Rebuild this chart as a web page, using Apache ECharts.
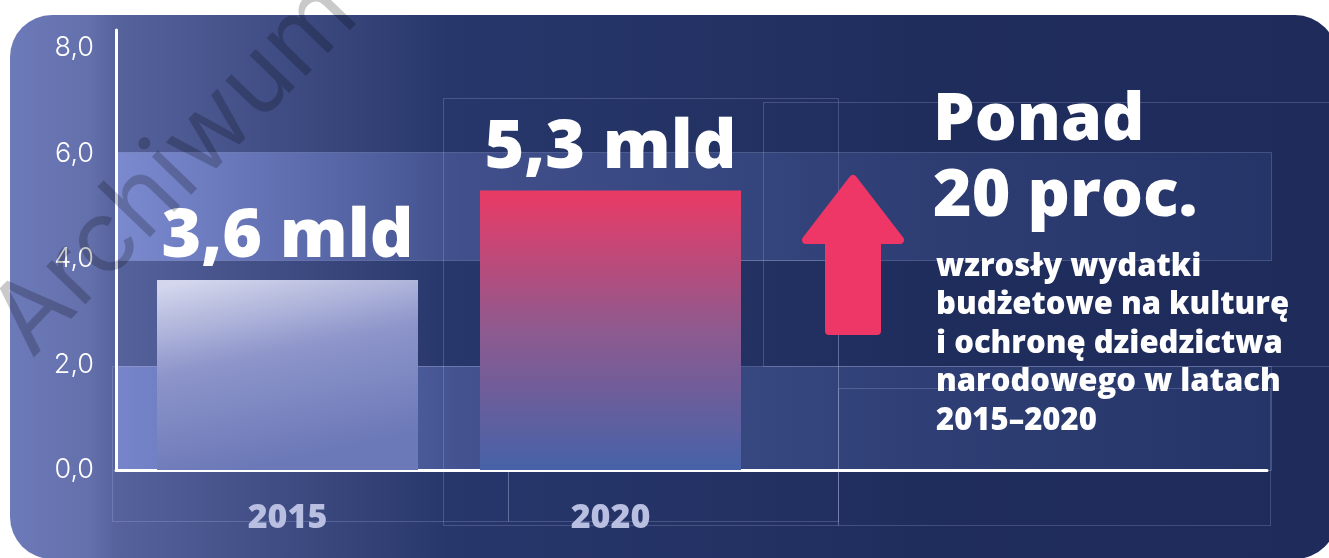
<!DOCTYPE html>
<html>
<head>
<meta charset="utf-8">
<script src="https://cdn.jsdelivr.net/npm/echarts@6/dist/echarts.min.js"></script>
<style>
  html, body { margin: 0; padding: 0; background: #ffffff; }
  #chart { width: 1329px; height: 558px; }
</style>
</head>
<body>
<div id="chart"></div>
<script>
// Budget spending on culture and heritage, billions PLN
const years = ['2015', '2020'];
const spending = [3.6, 5.3];
const valueLabels = ['3,6 mld', '5,3 mld'];
const yTickValues = [0, 2, 4, 6, 8];
const headline = ['Ponad', '20 proc.'];
const description = ['wzrosły wydatki', 'budżetowe na kulturę', 'i ochronę dziedzictwa', 'narodowego w latach', '2015–2020'];
const watermark = 'Archiwum';

const HEAVY = '"Open Sans"';
const fmt = v => v.toFixed(1).replace('.', ',');

const chart = echarts.init(document.getElementById('chart'), null, { renderer: 'canvas' });

const outline = 'rgba(190,200,240,0.22)';
function frame(x, y, w, h, fill) {
  return {
    type: 'rect', z: -8, silent: true,
    shape: { x: x + 0.5, y: y + 0.5, width: w, height: h },
    style: { fill: fill || 'transparent', stroke: outline, lineWidth: 1 }
  };
}
function bandFill(a, b) {
  return new echarts.graphic.LinearGradient(0, 0, 1, 0, [
    { offset: 0, color: a },
    { offset: 0.3, color: b },
    { offset: 1, color: 'rgba(70,95,160,0.18)' }
  ]);
}

const graphics = [
  // card
  {
    type: 'rect', z: -10, silent: true,
    shape: { x: 10, y: 15, width: 1327, height: 544, r: 42 },
    style: {
      fill: new echarts.graphic.LinearGradient(0, 0, 1, 0, [
        { offset: 0, color: '#6d7aba' },
        { offset: 0.06, color: '#6470ab' },
        { offset: 0.08, color: '#56629c' },
        { offset: 0.33, color: '#28376b' },
        { offset: 0.7, color: '#1f2d5d' },
        { offset: 1, color: '#1e2b5b' }
      ])
    }
  },
  // translucent bands
  frame(116, 152, 1155, 108, bandFill('rgba(125,140,210,0.95)', 'rgba(95,110,180,0.45)')),
  frame(116, 366, 1155, 104, bandFill('rgba(120,135,205,0.95)', 'rgba(95,110,180,0.5)')),
  // thin frames
  frame(443, 98, 395, 427),
  frame(763, 102, 620, 264),
  frame(508, 260, 330, 261),
  frame(112, 366, 396, 155),
  frame(838, 388, 432, 137)
];

// up arrow
graphics.push({
  type: 'polygon', z: 5, silent: true,
  shape: { points: [[853, 179], [900, 240], [877, 240], [877, 331], [829, 331], [829, 240], [806, 240]] },
  style: { fill: '#ee3766', stroke: '#ee3766', lineWidth: 8, lineJoin: 'round' }
});

// headline and description (y is the middle line, baseline sits ~0.39em lower)
headline.forEach((t, i) => {
  graphics.push({
    type: 'text', z: 5, silent: true,
    style: { x: 933, y: 121 + i * 76, text: t, fill: '#ffffff', font: '800 66px ' + HEAVY, verticalAlign: 'middle' }
  });
});
description.forEach((t, i) => {
  graphics.push({
    type: 'text', z: 5, silent: true,
    style: { x: 936, y: 267 + i * 38.5, text: t, fill: '#ffffff', font: '800 31px ' + HEAVY, verticalAlign: 'middle' }
  });
});

// watermark
graphics.push({
  type: 'text', z: 100, silent: true,
  x: 175, y: 168, rotation: 46 * Math.PI / 180,
  style: { x: 0, y: 0, text: watermark, fill: 'rgba(0,0,0,0.21)', font: '400 100px Inter', align: 'center', verticalAlign: 'middle' }
});

const option = {
  animation: false,
  backgroundColor: '#ffffff',
  grid: [
    // frame with the axis lines and value ticks
    { left: 116, right: 62, top: 30, bottom: 88 },
    // bars
    { left: 126, width: 646, top: 48, bottom: 88 }
  ],
  xAxis: [
    {
      gridIndex: 0, type: 'value', min: 0, max: 1,
      axisLine: { show: true, onZero: false, lineStyle: { color: '#ffffff', width: 3 } },
      axisTick: { show: false }, axisLabel: { show: false }, splitLine: { show: false }
    },
    {
      gridIndex: 1, type: 'category', data: years,
      axisLine: { show: false }, axisTick: { show: false }, splitLine: { show: false },
      axisLabel: { color: '#b9bfe1', fontFamily: HEAVY, fontWeight: 800, fontSize: 34, margin: 31 }
    }
  ],
  yAxis: [
    {
      gridIndex: 0, type: 'value', min: 0, max: 8.34, interval: 2,
      axisLine: { show: true, lineStyle: { color: '#ffffff', width: 3 } },
      axisTick: { show: false }, splitLine: { show: false },
      axisLabel: {
        color: '#ffffff', fontFamily: 'Inter', fontWeight: 300, fontSize: 27, margin: 22,
        formatter: v => (yTickValues.includes(v) ? fmt(v) : '')
      }
    },
    {
      gridIndex: 1, type: 'value', min: 0, max: 8,
      axisLine: { show: false }, axisTick: { show: false }, axisLabel: { show: false }, splitLine: { show: false }
    }
  ],
  graphic: graphics,
  series: [
    {
      type: 'bar', xAxisIndex: 1, yAxisIndex: 1, barWidth: 261,
      data: spending.map((v, i) => ({
        value: v,
        itemStyle: {
          color: i === 0
            ? new echarts.graphic.LinearGradient(0.15, 0, 0.3, 1, [
                { offset: 0, color: '#d3d6ec' },
                { offset: 0.45, color: '#8d95ca' },
                { offset: 1, color: '#6c79b8' }
              ])
            : new echarts.graphic.LinearGradient(0, 0, 0, 1, [
                { offset: 0, color: '#ea3a65' },
                { offset: 0.5, color: '#8e5a8f' },
                { offset: 1, color: '#4662a8' }
              ])
        }
      })),
      label: {
        show: true, position: 'top', distance: 8,
        formatter: p => valueLabels[p.dataIndex],
        color: '#ffffff', fontFamily: HEAVY, fontWeight: 800, fontSize: 68
      }
    }
  ]
};

chart.setOption(option);
</script>
</body>
</html>
